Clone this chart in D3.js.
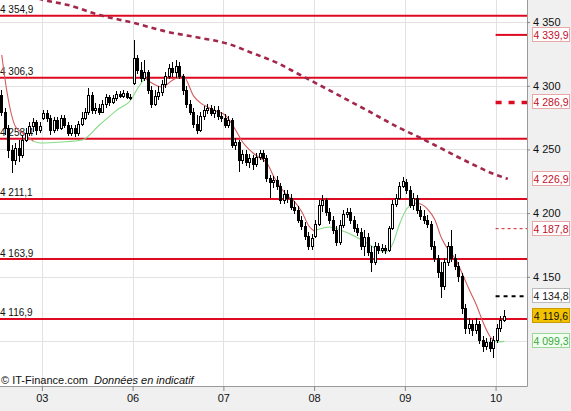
<!DOCTYPE html>
<html><head><meta charset="utf-8">
<script src="https://cdn.jsdelivr.net/npm/d3@7"></script>
<style>
body{margin:0;background:#fff}
svg{display:block;font-family:Arial,"Liberation Sans",sans-serif}
</style>
</head><body>
<svg id="c" width="571" height="411"></svg>
<script>
// ---------- DATA ----------
// candle index: 0-11 = end of day 02, then 26 candles per day (03,06,07,08,09), then day 10
const opens = [
4292.7,4279.4,4266.8,4249.5,4241.7,4251.1,4245.6,4257.4,4262.9,4268.4,4271.5,4265.2,
4274.7,4278.6,4274.7,4265.2,4273.1,4266.8,4274.7,4269.2,4262.9,4266.8,4262.9,4270.0,4274.7,4279.4,4292.7,4280.9,4282.5,4279.4,4285.7,4291.2,4287.2,4290.4,4293.5,4291.9,4294.3,4291.2,
4302.1,4321.8,4312.3,4306.1,4310.8,4296.6,4285.7,4291.9,4295.1,4301.4,4307.6,4313.9,4310.8,4315.5,4307.6,4296.6,4285.7,4279.4,4270.0,4265.2,4276.2,4280.9,4282.5,4278.6,4280.9,4276.2,
4274.7,4269.2,4273.1,4253.5,4255.8,4241.7,4246.4,4240.1,4243.3,4238.6,4244.1,4247.2,4243.3,4227.6,4224.4,4226.0,4221.3,4210.3,4215.0,4211.9,4204.8,4202.4,4194.6,4189.9,4182.0,4174.2,
4182.0,4191.5,4206.4,4210.3,4200.9,4194.6,4186.7,4177.3,4190.7,4199.3,4200.9,4194.6,4188.3,4185.2,4174.2,4181.3,4169.5,4161.6,4174.2,4171.0,4172.6,4171.0,4188.3,4207.2,4211.9,4221.3,
4224.4,4218.1,4206.4,4211.9,4202.4,4197.7,4194.6,4191.5,4174.2,4164.8,4153.8,4142.8,4161.6,4174.2,4164.8,4158.5,4150.6,4125.5,4109.8,4113.0,4108.2,4113.0,4100.4,4095.7,4098.8,4094.1,
4100.4,4109.8,4116.1];
const highs = [
4296.6,4282.5,4269.2,4253.5,4255.0,4257.4,4261.3,4266.8,4271.5,4274.7,4273.1,4271.5,
4280.9,4280.9,4277.0,4275.5,4275.5,4277.0,4277.0,4271.5,4269.2,4269.2,4272.3,4279.4,4282.5,4298.2,4295.1,4286.4,4285.7,4288.8,4293.5,4292.7,4292.7,4295.9,4295.9,4296.6,4295.9,4293.5,
4335.9,4324.1,4318.6,4320.2,4312.3,4299.8,4296.6,4299.8,4304.5,4310.8,4317.1,4318.6,4320.2,4318.6,4309.2,4299.8,4288.8,4282.5,4277.0,4279.4,4284.1,4285.7,4284.9,4284.1,4284.1,4279.4,
4277.8,4276.2,4274.7,4259.0,4257.4,4249.5,4249.5,4246.4,4245.6,4247.2,4249.5,4249.5,4245.6,4229.9,4229.1,4229.1,4223.6,4218.1,4218.1,4215.0,4209.5,4205.6,4197.7,4193.0,4185.2,4183.6,
4194.6,4210.3,4214.2,4211.9,4204.0,4197.7,4189.9,4194.6,4202.4,4204.0,4204.0,4197.7,4191.5,4188.3,4186.7,4184.4,4174.2,4177.3,4176.5,4175.8,4175.0,4189.9,4210.3,4215.0,4224.4,4228.4,
4226.8,4221.3,4215.8,4214.2,4205.6,4202.4,4198.5,4193.8,4178.1,4167.1,4161.6,4164.8,4177.3,4186.7,4167.9,4161.6,4153.0,4128.7,4117.7,4116.1,4117.7,4115.3,4103.5,4102.0,4102.0,4103.5,
4113.0,4119.2,4123.9];
const lows = [
4276.2,4261.3,4243.3,4231.5,4237.8,4240.1,4243.3,4255.8,4260.5,4263.7,4261.3,4262.9,
4273.1,4271.5,4261.3,4262.9,4264.5,4265.2,4266.8,4260.5,4260.5,4259.8,4260.5,4268.4,4273.1,4277.0,4277.8,4277.8,4277.0,4278.6,4282.5,4284.1,4285.7,4288.0,4290.4,4290.4,4289.6,4288.8,
4300.6,4309.2,4302.9,4303.7,4293.5,4282.5,4284.1,4288.8,4291.9,4298.2,4305.3,4306.9,4306.1,4305.3,4292.7,4282.5,4277.0,4266.8,4262.1,4263.7,4273.1,4277.8,4276.2,4274.7,4273.1,4271.5,
4266.8,4266.8,4251.1,4249.5,4232.3,4238.6,4237.0,4235.4,4233.8,4236.2,4241.7,4240.1,4224.4,4211.9,4219.7,4218.1,4207.2,4207.2,4207.9,4202.4,4199.3,4192.2,4186.7,4178.9,4171.0,4171.0,
4180.5,4189.9,4200.9,4197.7,4191.5,4183.6,4174.2,4175.0,4188.3,4196.2,4191.5,4185.2,4182.0,4171.0,4166.3,4166.3,4153.8,4159.3,4167.9,4168.7,4167.9,4169.5,4186.7,4204.8,4210.3,4219.7,
4215.0,4204.0,4202.4,4199.3,4194.6,4191.5,4188.3,4171.0,4161.6,4149.1,4133.4,4139.6,4158.5,4161.6,4155.3,4145.9,4120.8,4105.1,4105.1,4103.5,4105.1,4097.3,4091.0,4092.5,4091.0,4086.3,
4098.0,4106.7,4114.5];
const closes = [
4279.4,4266.8,4249.5,4241.7,4251.1,4245.6,4257.4,4262.9,4268.4,4271.5,4265.2,4268.4,
4278.6,4274.7,4265.2,4273.1,4266.8,4274.7,4269.2,4262.9,4266.8,4262.9,4270.0,4274.7,4279.4,4292.7,4280.9,4282.5,4279.4,4285.7,4291.2,4287.2,4290.4,4293.5,4291.9,4294.3,4291.2,4290.4,
4321.8,4312.3,4306.1,4310.8,4296.6,4285.7,4291.9,4295.1,4301.4,4307.6,4313.9,4310.8,4315.5,4307.6,4296.6,4285.7,4279.4,4270.0,4265.2,4276.2,4280.9,4282.5,4278.6,4280.9,4276.2,4274.7,
4269.2,4273.1,4253.5,4255.8,4241.7,4246.4,4240.1,4243.3,4238.6,4244.1,4247.2,4243.3,4227.6,4224.4,4226.0,4221.3,4210.3,4215.0,4211.9,4204.8,4202.4,4194.6,4189.9,4182.0,4174.2,4180.5,
4191.5,4206.4,4210.3,4200.9,4194.6,4186.7,4177.3,4190.7,4199.3,4200.9,4194.6,4188.3,4185.2,4174.2,4181.3,4169.5,4161.6,4174.2,4171.0,4172.6,4171.0,4188.3,4207.2,4211.9,4221.3,4225.2,
4218.1,4206.4,4211.9,4202.4,4197.7,4194.6,4191.5,4174.2,4164.8,4153.8,4142.8,4161.6,4174.2,4164.8,4158.5,4150.6,4125.5,4109.8,4113.0,4108.2,4113.0,4100.4,4095.7,4098.8,4094.1,4100.4,
4109.8,4116.1,4119.6];

// short moving average, split where price is below / above it
const maBelow = [
  [[0,4324.1],[1.5,4295.1],[4,4267.6],[6,4262.9],[9,4256.6]],
  [[41,4306.1],[43,4302.1],[46,4299.0],[49,4304.5],[52,4307.6],[55,4291.9],[57,4286.4],[59,4283.3],[62,4279.4],[64,4277.0],[67,4265.2],[69,4255.8],[72,4247.2],[74,4243.3],[76,4239.3],[78,4228.4],[80,4219.7],[82,4213.4],[84,4208.7],[86,4200.9],[88,4189.9],[89.5,4186.0]],
  [[118,4207.9],[120,4207.2],[122,4203.2],[124,4195.4],[126,4180.5],[128,4171.0],[130,4164.0],[132,4152.2],[134,4139.6],[136,4127.9],[138,4113.7],[140,4102.8],[141,4100.0]]
];
const maAbove = [
  [[9,4256.6],[11,4255.0],[17,4255.8],[23,4257.4],[28,4269.2],[33,4280.9],[37,4288.8],[39,4298.2],[41,4306.1]],
  [[89.5,4186.0],[91,4187.5],[94,4189.1],[97,4186.7],[101,4182.0],[105,4175.8],[108,4171.0],[110,4169.5],[112,4175.8],[114,4191.5],[116,4203.2],[118,4207.9]],
  [[141,4100.0],[142,4098.8],[144,4099.3]]
];
// long moving average (dashed)
const longMa = [[8,4370.4],[12,4367.3],[19,4363.4],[28,4355.5],[38,4349.2],[47,4342.6],[57,4337.5],[65,4332.8],[71,4326.5],[79,4317.8],[85,4309.2],[91,4300.6],[98,4290.4],[105,4280.2],[114,4266.8],[120,4259.0],[124,4253.5],[133,4240.9],[141,4230.7],[145,4226.9]];

// horizontal support / resistance levels
const levels = [4354.9, 4306.3, 4258.4, 4211.1, 4163.9, 4116.9];
const levelLabels = ["4 354,9","4 306,3","4 258,4","4 211,1","4 163,9","4 116,9"];

// right-hand markers
const markSolid = 4339.9, markThickDash = 4286.9, markThinDash = 4187.8, markBlackDash = 4134.8;
const lastPrice = 4119.6, lastMa = 4099.3, lastLongMa = 4226.9;
const redTags = [4339.9, 4286.9, 4226.9, 4187.8];

const dayTicks = [11.5, 37.5, 63.5, 89.5, 115.5, 141.5];
const dayLabels = ["03","06","07","08","09","10"];
const gridValues = [4100, 4150, 4200, 4250, 4300, 4350];
const yTickLabels = [4150, 4200, 4250, 4300, 4350];

// ---------- CHART ----------
const W = 571, H = 411, plotR = 527, plotB = 386;
const svg = d3.select("#c");
const x = d3.scaleLinear().domain([-0.5, 150.5]).range([0, plotR]);
const y = d3.scaleLinear().domain([4064.3, 4367.3]).range([plotB, 0]);
const fmt = v => d3.format(".1f")(v).replace(".", ",").replace(/^(\d)(\d{3})/, "$1 $2");

svg.append("rect").attr("width", W).attr("height", H).attr("fill", "#f0f0f0");
svg.append("rect").attr("width", plotR).attr("height", plotB).attr("fill", "#fff");

svg.append("defs").append("clipPath").attr("id", "clip")
  .append("rect").attr("width", plotR).attr("height", plotB);
const g = svg.append("g").attr("clip-path", "url(#clip)");

// grid
g.selectAll(".hg").data(gridValues).join("line")
  .attr("x1", 0).attr("x2", plotR)
  .attr("y1", d => Math.round(y(d)) + 0.5).attr("y2", d => Math.round(y(d)) + 0.5)
  .attr("stroke", "#e2e2e2");
g.selectAll(".vg").data(dayTicks).join("line")
  .attr("x1", d => Math.round(x(d)) + 0.5).attr("x2", d => Math.round(x(d)) + 0.5)
  .attr("y1", 0).attr("y2", plotB).attr("stroke", "#e2e2e2");

// level lines + labels
g.selectAll(".lv").data(levels).join("line")
  .attr("x1", 0).attr("x2", plotR)
  .attr("y1", d => y(d)).attr("y2", d => y(d))
  .attr("stroke", "#dd0a22").attr("stroke-width", 2);
g.selectAll(".lvt").data(levels).join("text")
  .attr("x", 0).attr("y", d => y(d) - 2.5)
  .attr("font-size", 10).attr("fill", "#111")
  .text((d, i) => levelLabels[i]);

// long MA
const line = d3.line().x(d => x(d[0])).y(d => y(d[1])).curve(d3.curveMonotoneX);
g.append("path").datum(longMa).attr("d", line)
  .attr("fill", "none").attr("stroke", "#a3274a").attr("stroke-width", 2.6)
  .attr("stroke-dasharray", "5,4");

// short MA
g.selectAll(".mab").data(maBelow).join("path").attr("d", line)
  .attr("fill", "none").attr("stroke", "#d45a5a").attr("stroke-width", 1.1);
g.selectAll(".maa").data(maAbove).join("path").attr("d", line)
  .attr("fill", "none").attr("stroke", "#86dc86").attr("stroke-width", 1.1);

// candles
const idx = d3.range(closes.length);
const cg = g.append("g").attr("shape-rendering", "crispEdges");
idx.forEach(i => {
  const cx = Math.floor(x(i));
  cg.append("line")
    .attr("x1", cx + 0.5).attr("x2", cx + 0.5)
    .attr("y1", y(highs[i])).attr("y2", y(lows[i]))
    .attr("stroke", "#000");
  const top = Math.round(y(Math.max(opens[i], closes[i])));
  const bot = Math.round(y(Math.min(opens[i], closes[i])));
  cg.append("rect")
    .attr("x", cx - 0.5).attr("width", 2)
    .attr("y", top + 0.5).attr("height", Math.max(1, bot - top))
    .attr("fill", closes[i] >= opens[i] ? "#fff" : "#000")
    .attr("stroke", "#000");
});

// right markers
const mx1 = x(141.5), mx2 = plotR;
function mark(v, color, w, dash) {
  g.append("line").attr("x1", mx1).attr("x2", mx2).attr("y1", y(v)).attr("y2", y(v))
    .attr("stroke", color).attr("stroke-width", w).attr("stroke-dasharray", dash);
}
mark(markSolid, "#dd0a22", 2, null);
mark(markThickDash, "#dd0a22", 3.5, "6,7");
mark(markThinDash, "#cc2030", 1, "3,3");
mark(markBlackDash, "#000", 2, "4,4");

// copyright
const ct = svg.append("text").attr("x", 1).attr("y", 384).attr("font-size", 11).attr("fill", "#111");
ct.append("tspan").text("© IT-Finance.com");
ct.append("tspan").attr("dx", 6).attr("font-style", "italic").text("Données en indicatif");

// frame
svg.append("line").attr("x1", 0).attr("x2", plotR + 0.5).attr("y1", plotB + 0.5).attr("y2", plotB + 0.5).attr("stroke", "#9a9a9a");
svg.append("line").attr("x1", plotR + 0.5).attr("x2", plotR + 0.5).attr("y1", 0).attr("y2", plotB + 0.5).attr("stroke", "#9a9a9a");

// axes
const ax = svg.append("g").attr("transform", `translate(0,${plotB})`)
  .call(d3.axisBottom(x).tickValues(dayTicks).tickFormat((d, i) => dayLabels[i]).tickSize(5).tickPadding(3));
ax.select(".domain").remove();
ax.selectAll("line").attr("stroke", "#888");
ax.selectAll("text").attr("font-size", 11).attr("fill", "#111").attr("font-family", "Arial,'Liberation Sans',sans-serif");

const ay = svg.append("g").attr("transform", `translate(${plotR},0)`)
  .call(d3.axisRight(y).tickValues(yTickLabels).tickFormat(d => d3.format(",")(d).replace(",", " ")).tickSize(3).tickPadding(3));
ay.select(".domain").remove();
ay.selectAll("line").attr("stroke", "#888");
ay.selectAll("text").attr("font-size", 11).attr("fill", "#111").attr("font-family", "Arial,'Liberation Sans',sans-serif");

// value tags
function tag(v, fill, stroke, color) {
  const yy = Math.round(y(v));
  svg.append("rect").attr("x", 532.5).attr("y", yy - 7.5).attr("width", 37).attr("height", 14)
    .attr("fill", fill).attr("stroke", stroke);
  svg.append("text").attr("x", 551).attr("y", yy + 3.8).attr("text-anchor", "middle")
    .attr("font-size", 10.5).attr("fill", color).text(fmt(v));
}
redTags.forEach(v => tag(v, "#fff", "#e8a8a8", "#c0102a"));
tag(markBlackDash, "#fff", "#bbbbbb", "#111");
tag(lastPrice, "#f2c200", "#c89a00", "#111");
tag(lastMa, "#f0fff0", "#9ad89a", "#3aa63a");
</script>
</body></html>
